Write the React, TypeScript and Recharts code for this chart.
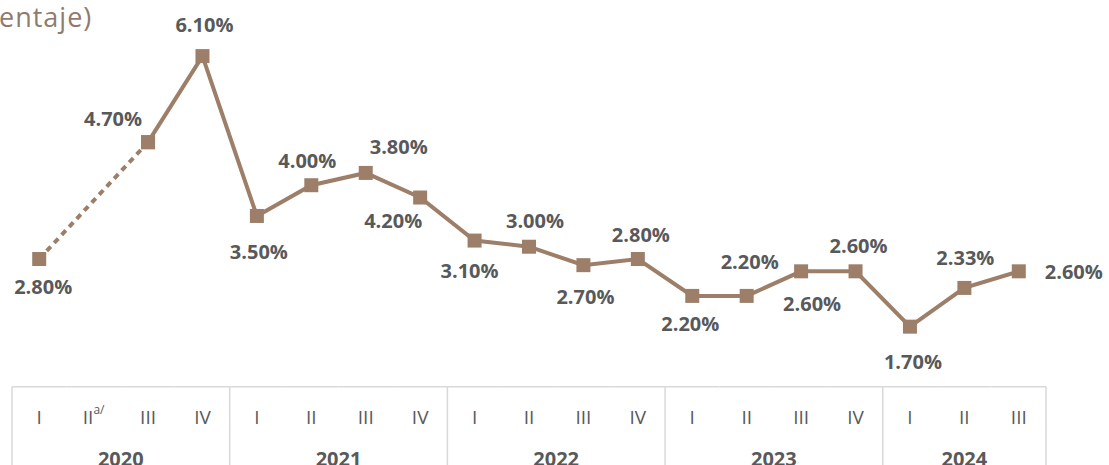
import React from 'react';
import { LineChart, Line, XAxis, YAxis, LabelList } from 'recharts';

// Quarters shown on the axis table
const quarters = ['I', 'II', 'III', 'IV', 'I', 'II', 'III', 'IV', 'I', 'II', 'III', 'IV', 'I', 'II', 'III', 'IV', 'I', 'II', 'III'];
const years = ['2020', '2020', '2020', '2020', '2021', '2021', '2021', '2021', '2022', '2022', '2022', '2022', '2023', '2023', '2023', '2023', '2024', '2024', '2024'];
const notes = ['', 'a/', '', '', '', '', '', '', '', '', '', '', '', '', '', '', '', '', ''];

// Values (percent); 2020 II has no data
const values = [2.8, null, 4.7, 6.1, 3.5, 4.0, 4.2, 3.8, 3.1, 3.0, 2.7, 2.8, 2.2, 2.2, 2.6, 2.6, 1.7, 2.33, 2.6];
// Labels as printed on the chart
const valueLabels = ['2.80%', '', '4.70%', '6.10%', '3.50%', '4.00%', '3.80%', '4.20%', '3.10%', '3.00%', '2.70%', '2.80%', '2.20%', '2.20%', '2.60%', '2.60%', '1.70%', '2.33%', '2.60%'];

// first segment (to 2020 III) is dashed
const dashedUntil = 2;

const data = quarters.map((q, i) => ({
  key: `${years[i]}-${q}`,
  quarter: q,
  year: years[i],
  note: notes[i],
  value: values[i],
  dashed: i <= dashedUntil ? values[i] : null,
  solid: i >= dashedUntil ? values[i] : null,
  label: valueLabels[i],
}));

const COLOR = '#9D7F69';
const TEXT = '#58595B';
const GRID = '#D9D9D9';
const FONT = '"Open Sans", sans-serif';
const BAND = 27.2;

// label offsets from the point centre
const labelOffsets: [number, number][] = [
  [4, 27], [0, 0], [-35, -24], [2, -32], [2, 36], [-4, -25], [33, -26], [-27, 23], [-5, 30],
  [6, -26], [2, 31], [3, -25], [-2, 28], [3, -34], [11, 32], [3, -26], [3, 35], [1, -30], [55, 0],
];

const SquareDot = (props: any) => {
  const { cx, cy, value } = props;
  if (value == null || cx == null || cy == null) return null;
  return <rect x={cx - 7} y={cy - 7} width={14} height={14} fill={COLOR} />;
};

const PointLabel = (props: any) => {
  const { x, y, index, value } = props;
  if (!value || x == null || y == null) return null;
  const [dx, dy] = labelOffsets[index];
  return (
    <text x={x + dx} y={y + dy} textAnchor="middle" dominantBaseline="central"
      fill={TEXT} fontSize={20} fontWeight={700} fontFamily={FONT}>
      {value}
    </text>
  );
};

const TableTick = (props: any) => {
  const { x, y, index } = props;
  const d = data[index];
  const prev = data[index - 1];
  const next = data[index + 1];
  const firstOfYear = !prev || prev.year !== d.year;
  const yearCount = data.filter((r) => r.year === d.year).length;
  const posInYear = data.filter((r, i) => r.year === d.year && i < index).length;
  const showYear = posInYear === Math.floor((yearCount - 1) / 2);
  const yearX = yearCount % 2 === 0 ? x + BAND : x;
  return (
    <g>
      <line x1={x - BAND} x2={x + BAND} y1={y + 17} y2={y + 17} stroke={GRID} strokeWidth={1.5} />
      {firstOfYear && <line x1={x - BAND} x2={x - BAND} y1={y + 17} y2={y + 110} stroke={GRID} strokeWidth={1.5} />}
      {!next && <line x1={x + BAND} x2={x + BAND} y1={y + 17} y2={y + 110} stroke={GRID} strokeWidth={1.5} />}
      <text x={x} y={y + 47} textAnchor="middle" dominantBaseline="central" fill={TEXT} fontSize={19} fontFamily={FONT}>
        {d.quarter}
        {d.note && <tspan fontSize={12} dy={-8}>{d.note}</tspan>}
      </text>
      {showYear && (
        <text x={yearX} y={y + 89} textAnchor="middle" dominantBaseline="central" fill={TEXT} fontSize={20} fontWeight={700} fontFamily={FONT}>
          {d.year}
        </text>
      )}
    </g>
  );
};

const App: React.FC = () => {
  return (
    <div style={{ position: 'absolute', left: 0, top: 0, width: 1109, height: 465, overflow: 'hidden', background: '#fff' }}>
      <LineChart width={1109} height={465} data={data} margin={{ top: 31.5, right: 63, left: 12, bottom: 0 }}>
        <XAxis
          dataKey="key"
          interval={0}
          axisLine={false}
          tickLine={false}
          tickSize={0}
          tickMargin={0}
          height={95.3}
          padding={{ left: BAND, right: BAND }}
          tick={<TableTick />}
        />
        <YAxis hide domain={[1, 6.5]} />
        <Line dataKey="dashed" stroke={COLOR} strokeWidth={4} strokeDasharray="6 5" connectNulls dot={<SquareDot />} isAnimationActive={false} />
        <Line dataKey="solid" stroke={COLOR} strokeWidth={4} dot={<SquareDot />} isAnimationActive={false} />
        <Line dataKey="value" stroke="none" dot={false} activeDot={false} isAnimationActive={false}>
          <LabelList dataKey="label" content={<PointLabel />} />
        </Line>
      </LineChart>
      <div style={{ position: 'absolute', left: -1, top: -2, zIndex: 1, fontFamily: FONT, fontSize: 27, fontWeight: 400, letterSpacing: 1, color: '#8F7B6E', lineHeight: '38px' }}>
        entaje)
      </div>
    </div>
  );
};

export default App;
